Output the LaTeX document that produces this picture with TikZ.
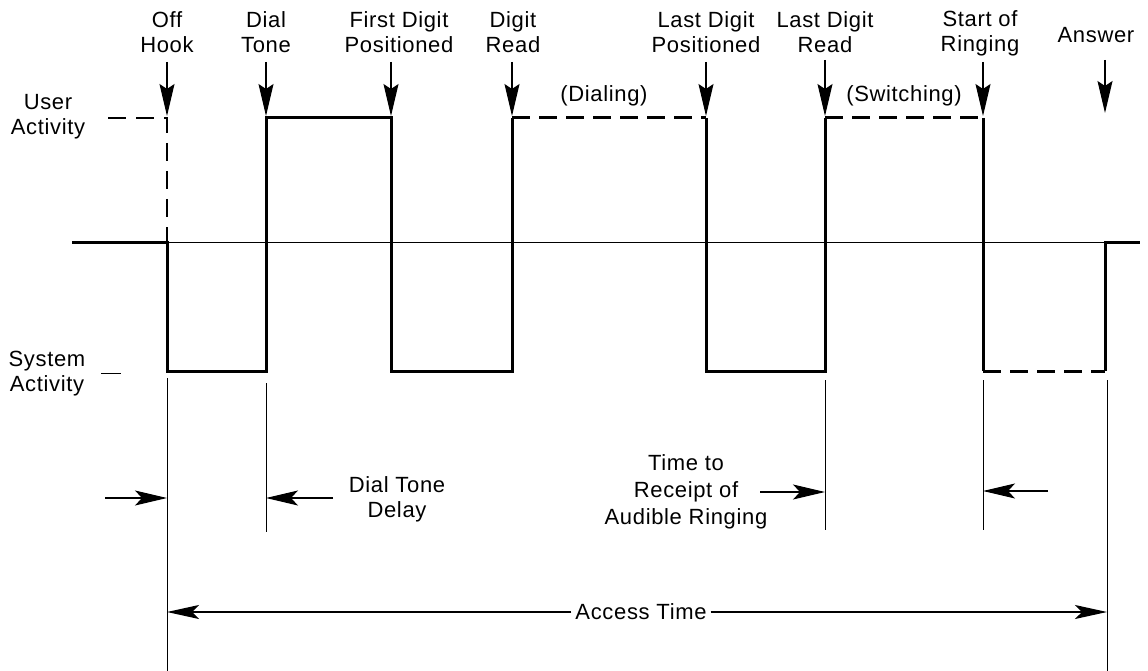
\documentclass[tikz,border=0pt]{standalone}
\usepackage{fontspec}
\setmainfont{Liberation Sans}[LetterSpace=3]
\usetikzlibrary{arrows.meta}
\begin{document}
\begin{tikzpicture}[x=1pt,y=-1pt,
  font=\fontsize{22}{25}\selectfont,
  lab/.style={align=center, inner sep=0pt},
  wave/.style={line width=3pt, line join=miter},
  wavedash/.style={line width=3pt, dash pattern=on 18pt off 9pt},
  thinline/.style={line width=1pt},
  userdash/.style={line width=1.4pt, dash pattern=on 18pt off 10pt},
  evarrow/.style={line width=1.2pt, -{Stealth[length=32pt,width=15pt,inset=5pt]}},
  harrow/.style={line width=1.2pt, -{Stealth[length=32pt,width=15pt,inset=7pt]}},
  accarrow/.style={line width=1.2pt, -{Stealth[length=32pt,width=14pt,inset=7pt]}},
]
\useasboundingbox (0,0) rectangle (1148,671);

% waveform corners
\coordinate (L) at (72,242);
\coordinate (a0) at (167,242);
\coordinate (a1) at (167,371);
\coordinate (b1) at (266,371);
\coordinate (b2) at (266,118);
\coordinate (c2) at (391,118);
\coordinate (c1) at (391,371);
\coordinate (d1) at (512,371);
\coordinate (d2) at (512,118);
\coordinate (e2) at (706,118);
\coordinate (e1) at (706,371);
\coordinate (f1) at (825,371);
\coordinate (f2) at (825,118);
\coordinate (g2) at (983,118);
\coordinate (g1) at (983,371);
\coordinate (h1) at (1105,371);
\coordinate (h0) at (1105,242);
\coordinate (R) at (1140,242);

% baseline
\draw[thinline] (L) -- (R);

% waveform
\draw[wave] (L) -- (a0) -- (a1) -- (b1) -- (b2) -- (c2) -- (c1) -- (d1) -- (d2);
\draw[wavedash] (d2) -- (e2);
\draw[wave] (e2) -- (e1) -- (f1) -- (f2);
\draw[wavedash] (f2) -- (g2);
\draw[wave] (g2) -- (g1);
\draw[wavedash] (g1) -- (h1);
\draw[wave] (h1) -- (h0) -- (R);

% off-hook user level (dashed)
\coordinate (u0) at (108,118);
\coordinate (u1) at (167,118);
\draw[userdash] (u0) -- (u1) -- (a0);

% left labels
\node[lab] (user) at (48,117) {User\\Activity};
\node[lab] (system) at (47,374) {System\\Activity};
\coordinate (st0) at (101,373);
\coordinate (st1) at (121,373);
\draw[thinline] (st0) -- (st1);

% top labels and event arrows
\node[lab] (offhook) at (167,32) {Off\\Hook};
\node[lab] (dialtone) at (266,32) {Dial\\Tone};
\node[lab] (firstdigit) at (399,32) {First Digit\\Positioned};
\node[lab] (digitread) at (513,32) {Digit\\Read};
\node[lab] (lastpos) at (706,32) {Last Digit\\Positioned};
\node[lab] (lastread) at (825,32) {Last Digit\\Read};
\node[lab] (ringing) at (980,33) {Start of\\Ringing};
\node[lab] (answer) at (1096,35) {Answer};
\node[lab] (dialing) at (604,96) {(Dialing)};
\node[lab] (switching) at (904,96) {(Switching)};

\coordinate (t1) at (167,62);   \coordinate (p1) at (167,116);
\coordinate (t2) at (266,62);   \coordinate (p2) at (266,116);
\coordinate (t3) at (391,62);   \coordinate (p3) at (391,116);
\coordinate (t4) at (512,62);   \coordinate (p4) at (512,116);
\coordinate (t5) at (706,62);   \coordinate (p5) at (706,116);
\coordinate (t6) at (825,60);   \coordinate (p6) at (825,116);
\coordinate (t7) at (983,62);   \coordinate (p7) at (983,116);
\coordinate (t8) at (1105,60);  \coordinate (p8) at (1105,113);
\foreach \i in {1,...,8} { \draw[evarrow] (t\i) -- (p\i); }

% lower extension lines
\coordinate (v1a) at (167,378);  \coordinate (v1b) at (167,671);
\coordinate (v2a) at (266,383);  \coordinate (v2b) at (266,532);
\coordinate (v3a) at (825,380);  \coordinate (v3b) at (825,530);
\coordinate (v4a) at (983,380);  \coordinate (v4b) at (983,530);
\coordinate (v5a) at (1107,380); \coordinate (v5b) at (1107,671);
\foreach \i in {1,...,5} { \draw[thinline] (v\i a) -- (v\i b); }

% dial tone delay
\coordinate (dA) at (105,498); \coordinate (dAt) at (167,498);
\coordinate (dB) at (333,498); \coordinate (dBt) at (266,498);
\draw[harrow] (dA) -- (dAt);
\draw[harrow] (dB) -- (dBt);
\node[lab] (dtd) at (397,499) {Dial Tone\\Delay};

% time to receipt of audible ringing
\node[lab, font=\fontsize{22}{27}\selectfont] (trr) at (686,492) {Time to\\Receipt of\\Audible Ringing};
\coordinate (rA) at (760,492); \coordinate (rAt) at (825,492);
\coordinate (rB) at (1048,491); \coordinate (rBt) at (983,491);
\draw[harrow] (rA) -- (rAt);
\draw[harrow] (rB) -- (rBt);

% access time
\node[lab, inner xsep=4pt] (acc) at (641,612) {Access Time};
\coordinate (accL) at (167,612);
\coordinate (accR) at (1107,612);
\draw[accarrow] (acc.west) -- (accL);
\draw[accarrow] (acc.east) -- (accR);
\end{tikzpicture}
\end{document}
